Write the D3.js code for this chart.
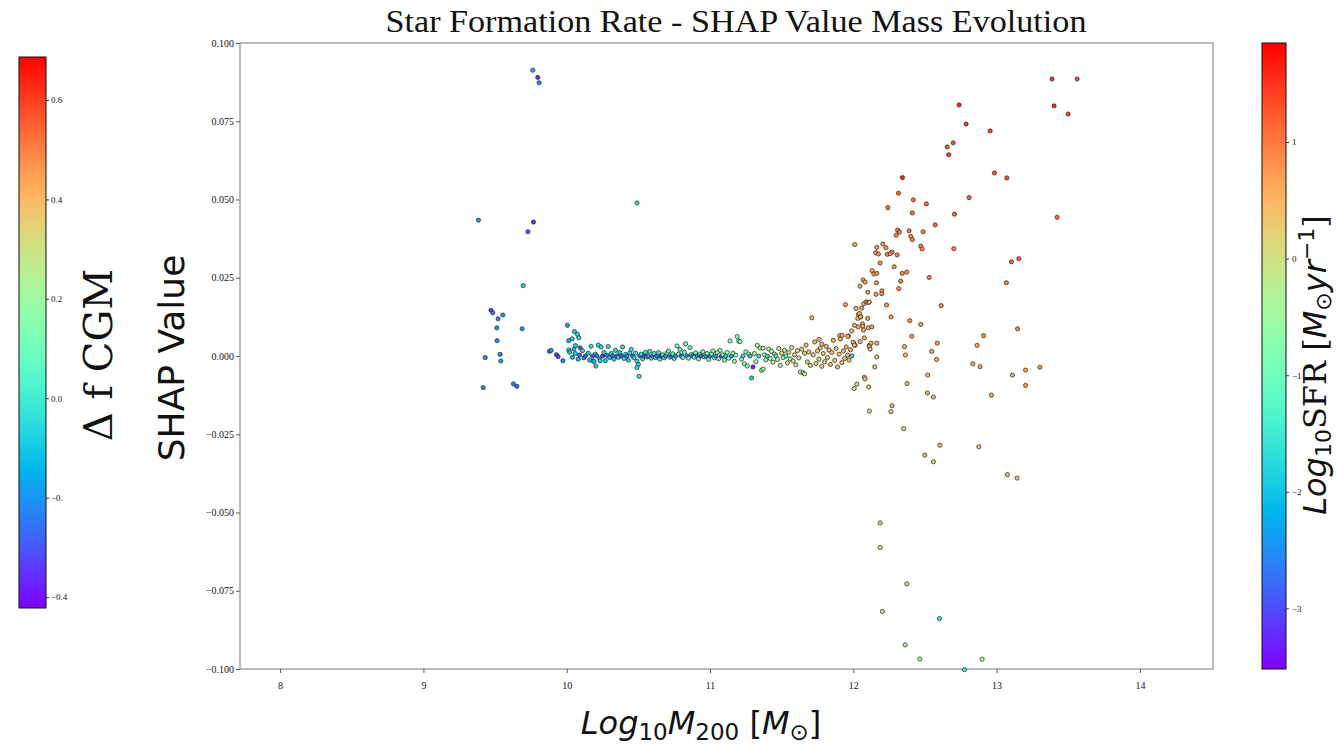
<!DOCTYPE html>
<html>
<head>
<meta charset="utf-8">
<script src="https://cdn.jsdelivr.net/npm/d3@7"></script>
<style>
  body { margin: 0; background: #fff; }
  text { fill: #111; }
</style>
</head>
<body>
<svg id="chart" width="1337" height="748"></svg>
<script>
// [log10 M200, SHAP value, log10 SFR]
const lowMassHalos = [
  [9.384, 0.0434, -2.3], [9.768, 0.0428, -3.3], [9.729, 0.0397, -2.9], [9.696, 0.0225, -1.9],
  [9.472, 0.0146, -3.1], [9.484, 0.0138, -2.7], [9.554, 0.0131, -2.5], [9.521, 0.0119, -2.6],
  [9.512, 0.0090, -2.5], [9.689, 0.0087, -2.4], [9.514, 0.0049, -2.5], [9.431, -0.0005, -2.5],
  [9.535, 0.0005, -2.5], [9.540, -0.0016, -2.3], [9.417, -0.0101, -2.6], [9.628, -0.0089, -2.6],
  [9.652, -0.0097, -2.8], [9.763, 0.0913, -2.1], [9.798, 0.0890, -3.2], [9.807, 0.0873, -2.6],
  [10.491, 0.0489, -1.7],
  [9.879, 0.0015, -2.5], [9.891, 0.0018, -2.4], [9.928, 0.0004, -3.0], [9.940, -0.0002, -3.1],
  [9.973, -0.0015, -2.5], [10.005, 0.0098, -2.3], [10.054, 0.0078, -1.9], [10.075, 0.0069, -1.8],
  [10.084, 0.0058, -1.8], [10.014, 0.0049, -2.2], [10.038, 0.0055, -1.9], [10.061, 0.0033, -1.9],
  [10.014, 0.0019, -1.9], [10.050, 0.0022, -2.0], [10.094, 0.0026, -3.0]
];

const bandHalos = [
  [10.02, 0.0012, -2.0], [10.04, -0.0004, -2.3], [10.06, 0.0008, -1.9], [10.08, -0.0010, -2.1],
  [10.09, 0.0003, -2.8], [10.11, 0.0017, -1.8], [10.12, -0.0006, -2.2], [10.13, 0.0000, -3.0],
  [10.15, 0.0009, -1.9], [10.16, -0.0013, -2.0], [10.17, 0.0031, -1.7], [10.18, 0.0000, -2.9],
  [10.184, -0.0016, -2.0], [10.19, -0.0017, -2.1], [10.20, 0.0006, -1.8], [10.203, -0.0032, -1.9],
  [10.21, 0.0000, -2.7], [10.22, 0.0035, -1.7], [10.23, -0.0008, -2.0], [10.233, -0.0016, -1.8],
  [10.24, 0.0029, -1.7], [10.25, 0.0000, -3.1], [10.26, 0.0011, -1.8], [10.27, -0.0015, -1.9],
  [10.28, 0.0002, -2.6], [10.29, 0.0030, -1.7], [10.30, -0.0005, -2.0],
  [10.31, 0.0008, -1.8], [10.32, 0.0000, -2.8], [10.33, -0.0010, -1.9], [10.34, 0.0018, -1.7],
  [10.35, 0.0000, -2.5], [10.36, -0.0004, -1.8], [10.37, 0.0011, -1.9], [10.38, 0.0000, -3.0],
  [10.39, 0.0029, -1.6], [10.40, -0.0008, -1.8], [10.41, 0.0005, -1.7], [10.42, 0.0000, -2.6],
  [10.43, -0.0013, -1.9], [10.44, 0.0010, -1.7], [10.45, 0.0021, -1.6], [10.46, 0.0000, -2.9],
  [10.47, -0.0006, -1.8], [10.48, 0.0009, -1.7], [10.49, -0.0016, -1.7], [10.50, -0.0027, -1.8],
  [10.49, -0.0037, -1.7], [10.505, -0.0065, -1.6], [10.51, 0.0000, -2.7], [10.52, 0.0006, -1.6],
  [10.53, -0.0009, -1.7], [10.54, 0.0000, -3.1], [10.55, 0.0012, -1.6], [10.56, -0.0003, -1.7],
  [10.57, 0.0000, -2.5], [10.58, 0.0015, -1.5], [10.59, -0.0007, -1.6], [10.60, 0.0000, -2.8],
  [10.61, 0.0008, -1.5], [10.62, -0.0005, -1.6], [10.63, 0.0000, -2.7], [10.64, 0.0011, -1.5],
  [10.65, -0.0010, -1.5], [10.66, 0.0000, -3.0], [10.67, 0.0004, -1.4], [10.68, -0.0006, -1.5],
  [10.69, 0.0000, -2.6], [10.70, 0.0009, -1.4], [10.71, 0.0016, -1.3], [10.72, -0.0004, -1.4],
  [10.73, 0.0000, -2.9], [10.74, 0.0007, -1.3], [10.75, -0.0008, -1.4], [10.76, 0.0000, -2.5],
  [10.77, 0.0032, -1.2], [10.78, 0.0006, -1.3], [10.79, 0.0021, -1.2], [10.80, 0.0000, -3.1],
  [10.81, -0.0005, -1.3], [10.82, 0.0012, -1.2], [10.83, 0.0039, -1.1], [10.84, 0.0000, -2.7],
  [10.85, -0.0007, -1.2], [10.86, 0.0027, -1.1], [10.87, 0.0005, -1.2], [10.88, 0.0000, -2.8],
  [10.89, -0.0004, -1.1], [10.90, 0.0010, -1.0], [10.91, 0.0000, -2.6], [10.92, -0.0009, -1.1],
  [10.93, 0.0006, -1.0], [10.94, 0.0000, -3.0], [10.95, 0.0014, -1.0], [10.96, -0.0003, -1.0],
  [10.97, 0.0000, -2.4], [10.98, 0.0008, -0.9], [10.99, -0.0011, -1.0],
  [11.00, 0.0000, -2.7], [11.01, 0.0007, -0.9], [11.02, 0.0016, -0.9], [11.03, -0.0006, -1.0],
  [11.04, 0.0000, -2.5], [11.05, 0.0011, -0.8], [11.06, -0.0009, -0.9], [11.07, 0.0018, -0.8],
  [11.08, 0.0000, -2.9], [11.09, 0.0004, -0.8], [11.10, -0.0013, -0.8], [11.11, 0.0000, -1.9],
  [11.12, 0.0011, -0.7], [11.13, -0.0007, -0.8], [11.14, 0.0048, -0.8], [11.15, 0.0000, -2.2],
  [11.16, 0.0009, -0.7], [11.17, -0.0017, -0.8], [11.18, 0.0003, -0.7], [11.19, 0.0062, -0.9],
  [11.20, 0.0048, -0.8], [11.21, 0.0046, -0.8], [11.22, -0.0010, -0.6], [11.23, 0.0000, -1.8],
  [11.24, -0.0025, -0.7], [11.25, 0.0013, -0.6], [11.26, -0.0032, -0.8], [11.27, 0.0006, -0.5],
  [11.28, 0.0000, -1.9], [11.29, -0.0070, -1.9], [11.30, -0.0035, -3.2], [11.31, 0.0008, -0.5],
  [11.32, -0.0018, -0.6], [11.33, 0.0034, -0.4], [11.34, 0.0000, -1.7], [11.35, 0.0025, -0.4],
  [11.36, -0.0046, -0.6], [11.37, 0.0025, -0.4], [11.37, -0.0042, -0.7], [11.38, 0.0004, -0.5],
  [11.39, -0.0012, -0.4], [11.40, 0.0000, -1.6], [11.41, 0.0022, -0.3], [11.42, -0.0008, -0.4],
  [11.43, 0.0015, -0.3], [11.44, -0.0020, -0.4], [11.45, 0.0006, -0.2], [11.46, 0.0000, -1.5],
  [11.47, -0.0011, -0.3], [11.48, 0.0024, -0.2], [11.49, -0.0030, -0.3], [11.50, 0.0009, -0.1],
  [11.51, -0.0005, -0.2], [11.52, 0.0018, -0.1], [11.53, 0.0000, -1.4], [11.54, -0.0022, -0.2],
  [11.55, 0.0012, 0.0], [11.56, -0.0009, -0.1], [11.57, 0.0027, 0.0], [11.58, -0.0016, -0.1],
  [11.59, 0.0004, 0.1], [11.60, -0.0028, 0.0], [11.61, 0.0017, 0.1], [11.62, -0.0006, 0.0],
  [11.63, -0.0051, -0.3], [11.64, 0.0022, 0.2], [11.65, -0.0054, -0.3], [11.66, -0.0057, -0.2],
  [11.66, 0.0009, 0.2], [11.67, 0.0035, 0.5], [11.68, -0.0019, 0.1], [11.69, 0.0013, 0.3],
  [11.70, -0.0030, 0.2], [11.71, 0.0122, 0.6], [11.72, 0.0004, 0.3], [11.73, 0.0045, 0.5],
  [11.74, -0.0024, 0.2], [11.75, 0.0016, 0.4],
  [11.76, 0.0053, 0.5], [11.76, -0.0010, 0.3], [11.77, 0.0026, 0.4], [11.78, 0.0038, 0.5],
  [11.78, -0.0033, 0.3], [11.79, 0.0008, 0.4], [11.80, -0.0018, 0.3], [11.81, 0.0031, 0.5],
  [11.82, -0.0005, 0.4], [11.83, 0.0019, 0.5], [11.84, -0.0027, 0.4], [11.85, 0.0011, 0.5],
  [11.86, 0.0050, 0.6], [11.87, -0.0014, 0.4], [11.88, 0.0024, 0.5], [11.89, -0.0035, 0.4],
  [11.90, 0.0006, 0.5], [11.905, 0.0065, 0.6], [11.91, 0.0055, 0.6], [11.92, -0.0021, 0.5],
  [11.93, 0.0016, 0.5], [11.94, -0.0008, 0.4], [11.945, 0.0164, 0.7], [11.95, 0.0029, 0.6],
  [11.96, 0.0003, 0.5], [11.966, 0.0064, 0.6], [11.97, -0.0013, 0.4], [11.98, 0.0020, 0.6],
  [11.99, 0.0000, -1.8]
];

const highMassHalos = [
  [12.010, 0.0356, 0.7], [11.989, 0.0080, 0.5], [12.001, 0.0042, 0.5], [12.012, 0.0034, 0.5],
  [12.008, 0.0098, 0.6], [12.034, 0.0093, 0.6], [12.064, 0.0103, 0.6], [12.066, 0.0095, 0.6],
  [12.071, 0.0083, 0.6], [12.105, 0.0090, 0.6], [12.129, 0.0093, 0.7], [12.036, 0.0133, 0.6],
  [12.031, 0.0120, 0.6], [12.052, 0.0125, 0.6], [12.101, 0.0120, 0.7], [12.019, 0.0152, 0.6],
  [12.059, 0.0153, 0.7], [12.073, 0.0167, 0.6], [12.089, 0.0173, 0.7], [12.101, 0.0171, 0.7],
  [12.112, 0.0172, 0.6], [12.232, 0.0163, 0.8], [12.263, 0.0125, 0.7], [12.047, 0.0046, 0.5],
  [12.077, 0.0058, 0.6], [12.112, 0.0034, 0.5], [12.124, 0.0041, 0.6], [12.164, 0.0041, 0.6],
  [12.164, -0.0003, 0.3], [12.150, -0.0035, 0.4], [12.006, -0.0104, 0.1], [12.025, -0.0090, 0.2],
  [12.077, -0.0068, 0.3], [12.082, -0.0073, 0.4], [12.108, -0.0099, 0.5], [12.112, -0.0176, 0.1],
  [12.271, -0.0159, 0.6], [12.262, -0.0178, 0.3], [12.375, -0.0088, 0.5], [12.517, -0.0118, 0.6],
  [12.559, -0.0131, 0.6], [12.351, -0.0232, 0.2], [12.604, -0.0285, 0.5], [12.876, -0.0290, 0.4],
  [12.499, -0.0317, 0.5], [12.559, -0.0338, 0.3], [13.075, -0.0379, 0.3], [13.143, -0.0390, 0.4],
  [12.187, -0.0533, 0.2], [12.187, -0.0612, 0.0], [12.373, -0.0728, 0.2], [12.203, -0.0816, 0.0],
  [12.601, -0.0839, -1.6], [12.362, -0.0923, -0.2], [12.464, -0.0968, -0.6], [12.899, -0.0969, -0.6],
  [12.775, -0.1002, -1.5], [13.202, -0.0094, 0.8], [12.964, -0.0125, 0.6], [13.302, -0.0036, 0.8],
  [13.202, -0.0045, 0.7], [13.110, -0.0061, 0.6], [12.834, -0.0025, 0.6], [12.885, -0.0034, 0.7],
  [12.586, 0.0041, 0.7], [12.547, 0.0015, 0.6], [12.581, -0.0011, 0.6], [12.519, -0.0061, 0.5],
  [12.357, 0.0030, 0.6], [12.364, 0.0003, 0.5], [12.408, 0.0063, 0.7], [12.394, 0.0113, 0.8],
  [12.471, 0.0101, 0.7], [12.613, 0.0161, 0.9], [13.146, 0.0087, 0.9], [12.909, 0.0065, 0.8],
  [12.864, 0.0034, 0.7], [13.068, 0.0234, 1.0], [13.103, 0.0301, 1.2], [13.155, 0.0311, 1.2],
  [12.529, 0.0251, 0.9], [12.701, 0.0343, 1.0], [12.471, 0.0351, 0.9], [12.480, 0.0342, 0.9],
  [12.206, 0.0358, 0.8], [12.227, 0.0346, 0.8], [12.164, 0.0347, 0.8], [12.157, 0.0330, 0.8],
  [12.175, 0.0326, 0.8], [12.238, 0.0325, 0.9], [12.271, 0.0332, 0.9], [12.257, 0.0327, 0.8],
  [12.306, 0.0323, 0.9], [12.187, 0.0297, 0.8], [12.285, 0.0285, 0.8], [12.131, 0.0273, 0.7],
  [12.143, 0.0262, 0.7], [12.164, 0.0264, 0.8], [12.341, 0.0264, 0.9], [12.373, 0.0268, 0.9],
  [12.068, 0.0243, 0.7], [12.082, 0.0236, 0.7], [12.161, 0.0234, 0.8], [12.330, 0.0239, 0.9],
  [12.047, 0.0223, 0.7], [12.317, 0.0215, 0.9], [12.101, 0.0204, 0.7], [12.159, 0.0197, 0.7],
  [12.199, 0.0208, 0.8], [12.199, 0.0199, 0.8], [12.043, 0.0136, 0.6], [12.050, 0.0125, 0.6],
  [11.922, 0.0066, 0.6], [11.961, 0.0063, 0.6], [11.999, 0.0044, 0.5], [12.008, 0.0035, 0.5],
  [12.112, 0.0030, 0.5], [12.117, 0.0022, 0.5],
  [12.571, 0.0419, 1.1], [12.309, 0.0402, 1.0], [12.322, 0.0396, 1.0], [12.299, 0.0386, 0.9],
  [12.389, 0.0400, 1.0], [12.487, 0.0397, 1.0], [12.401, 0.0382, 0.9], [12.412, 0.0372, 0.9],
  [12.666, 0.0643, 1.5], [12.343, 0.0570, 1.6], [12.985, 0.0585, 1.3], [13.071, 0.0569, 1.3],
  [12.315, 0.0520, 1.2], [12.419, 0.0499, 1.1], [12.510, 0.0486, 1.2], [12.241, 0.0474, 1.1],
  [12.808, 0.0506, 1.2], [12.412, 0.0457, 1.1], [12.706, 0.0453, 1.2], [13.422, 0.0443, 1.1],
  [12.738, 0.0802, 1.6], [12.787, 0.0741, 1.5], [12.955, 0.0719, 1.4], [12.655, 0.0668, 1.3],
  [12.697, 0.0681, 1.3], [13.387, 0.0885, 1.5], [13.401, 0.0799, 1.6], [13.499, 0.0773, 1.4],
  [13.562, 0.0885, 1.3]
];

const xTicks = [8, 9, 10, 11, 12, 13, 14];
const yTicks = [-0.1, -0.075, -0.05, -0.025, 0, 0.025, 0.05, 0.075, 0.1];
const cgmTicks = [-0.4, -0.2, 0, 0.2, 0.4, 0.6];
const cgmTickLabels = ['\u22120.4', '\u22120.', '0.0', '0.2', '0.4', '0.6'];
const sfrTicks = [-3, -2, -1, 0, 1];
const sfrTickLabels = ['\u22123', '\u22122', '\u22121', '0', '1'];

const svg = d3.select('#chart');
const serif = '"Liberation Serif", "DejaVu Serif", serif';
const sans = '"DejaVu Sans", sans-serif';

// matplotlib "rainbow"
function rainbow(t) {
  t = Math.max(0, Math.min(1, t));
  const r = Math.min(1, Math.abs(2 * t - 0.5));
  const g = Math.sin(Math.PI * t);
  const b = Math.cos((Math.PI * t) / 2);
  return d3.rgb(r * 255, g * 255, b * 255).formatHex();
}

const x = d3.scaleLinear().domain([7.72, 14.51]).range([240, 1213]);
const y = d3.scaleLinear().domain([-0.1, 0.1]).range([669, 43]);
const sfrScale = d3.scaleLinear().domain([-3.52, 1.85]).range([669, 43]);
const cgmScale = d3.scaleLinear().domain([-0.422, 0.6865]).range([608, 57]);
const sfrNorm = d3.scaleLinear().domain([-3.52, 1.85]).range([0, 1]);

// gradient for colorbars
const defs = svg.append('defs');
const grad = defs.append('linearGradient').attr('id', 'rainbow')
  .attr('x1', 0).attr('y1', 1).attr('x2', 0).attr('y2', 0);
d3.range(0, 1.0001, 0.05).forEach((t) => {
  grad.append('stop').attr('offset', t).attr('stop-color', rainbow(t));
});

// title
svg.append('text')
  .attr('x', 736).attr('y', 32)
  .attr('text-anchor', 'middle')
  .style('font-family', serif).style('font-size', '31px')
  .attr('textLength', 701).attr('lengthAdjust', 'spacingAndGlyphs')
  .text('Star Formation Rate - SHAP Value Mass Evolution');

// axes
const xAxis = svg.append('g')
  .attr('transform', 'translate(0,669)')
  .call(d3.axisBottom(x).tickValues(xTicks).tickSize(4).tickPadding(9).tickFormat(d3.format('d')));
const yAxis = svg.append('g')
  .attr('transform', 'translate(240,0)')
  .call(d3.axisLeft(y).tickValues(yTicks).tickSize(4).tickPadding(2).tickFormat(d3.format('.3f')));
[xAxis, yAxis].forEach((g) => {
  g.select('.domain').remove();
  g.selectAll('line').attr('stroke', '#555');
  g.selectAll('text').style('font-family', serif).style('font-size', '10px').attr('fill', '#222');
});
svg.append('rect')
  .attr('x', 240).attr('y', 43).attr('width', 973).attr('height', 626)
  .attr('fill', 'none').attr('stroke', '#777').attr('stroke-width', 1);

// scatter points
const allHalos = lowMassHalos.concat(bandHalos, highMassHalos);
svg.append('g')
  .selectAll('circle')
  .data(allHalos)
  .join('circle')
  .attr('cx', (d) => x(d[0]))
  .attr('cy', (d) => y(d[1]))
  .attr('r', 2.1)
  .attr('fill', (d) => rainbow(sfrNorm(d[2])))
  .attr('stroke', '#222')
  .attr('stroke-width', 0.7);

// axis labels
const xl = svg.append('text')
  .attr('x', 701).attr('y', 734)
  .attr('text-anchor', 'middle')
  .style('font-family', sans).style('font-size', '32px');
xl.append('tspan').style('font-style', 'italic').text('Log');
xl.append('tspan').style('font-size', '23px').attr('dy', 6).text('10');
xl.append('tspan').style('font-style', 'italic').attr('dy', -6).text('M');
xl.append('tspan').style('font-size', '23px').attr('dy', 6).text('200');
xl.append('tspan').attr('dy', -6).text(' [');
xl.append('tspan').style('font-style', 'italic').text('M');
xl.append('tspan').style('font-size', '23px').attr('dy', 6).text('\u2299');
xl.append('tspan').attr('dy', -6).text(']');

svg.append('text')
  .attr('transform', 'translate(184,358) rotate(-90)')
  .attr('text-anchor', 'middle')
  .style('font-family', sans).style('font-size', '36px')
  .text('SHAP Value');

// left colorbar (delta f CGM)
svg.append('rect')
  .attr('x', 19).attr('y', 57).attr('width', 27).attr('height', 551)
  .attr('fill', 'url(#rainbow)').attr('stroke', '#111').attr('stroke-width', 1);
const cgmAxis = svg.append('g')
  .attr('transform', 'translate(46,0)')
  .call(d3.axisRight(cgmScale).tickValues(cgmTicks).tickSize(3).tickPadding(2)
    .tickFormat((d, i) => cgmTickLabels[i]));
cgmAxis.select('.domain').remove();
cgmAxis.selectAll('line').attr('stroke', '#333');
cgmAxis.selectAll('text').style('font-family', serif).style('font-size', '9px').attr('fill', '#222');

svg.append('text')
  .attr('transform', 'translate(112,355) rotate(-90)')
  .attr('text-anchor', 'middle')
  .style('font-family', '"DejaVu Serif", serif').style('font-size', '40px')
  .text('\u0394 f CGM');

// right colorbar (log SFR)
svg.append('rect')
  .attr('x', 1262).attr('y', 43).attr('width', 24).attr('height', 626)
  .attr('fill', 'url(#rainbow)').attr('stroke', '#111').attr('stroke-width', 1);
const sfrAxis = svg.append('g')
  .attr('transform', 'translate(1286,0)')
  .call(d3.axisRight(sfrScale).tickValues(sfrTicks).tickSize(3).tickPadding(3)
    .tickFormat((d, i) => sfrTickLabels[i]));
sfrAxis.select('.domain').remove();
sfrAxis.selectAll('line').attr('stroke', '#333');
sfrAxis.selectAll('text').style('font-family', serif).style('font-size', '9px').attr('fill', '#222');

const rl = svg.append('text')
  .attr('transform', 'translate(1326,365) rotate(-90)')
  .attr('text-anchor', 'middle')
  .style('font-family', sans).style('font-size', '32px');
rl.append('tspan').style('font-style', 'italic').text('Log');
rl.append('tspan').style('font-size', '22px').attr('dy', 5).text('10');
rl.append('tspan').style('font-family', '"DejaVu Serif", serif').attr('dy', -5).text('SFR');
rl.append('tspan').style('font-family', '"DejaVu Serif", serif').text(' [');
rl.append('tspan').style('font-style', 'italic').text('M');
rl.append('tspan').style('font-size', '22px').attr('dy', 5).text('\u2299');
rl.append('tspan').style('font-style', 'italic').attr('dy', -5).text('yr');
rl.append('tspan').style('font-size', '22px').attr('dy', -12).text('\u22121');
rl.append('tspan').style('font-family', '"DejaVu Serif", serif').attr('dy', 12).text(']');
</script>
</body>
</html>
